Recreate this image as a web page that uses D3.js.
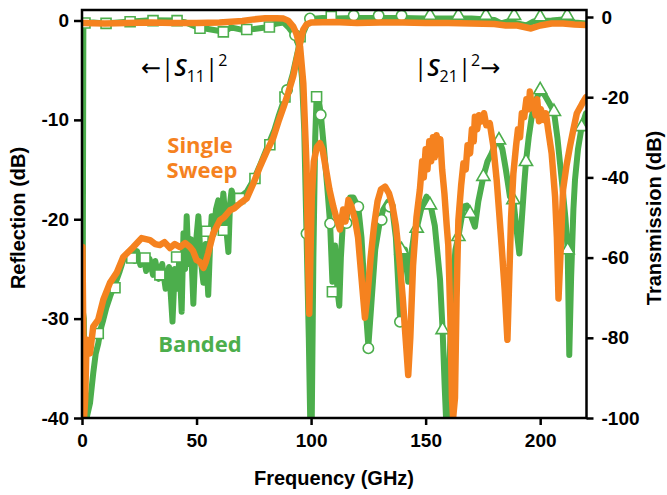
<!DOCTYPE html>
<html>
<head>
<meta charset="utf-8">
<script src="https://cdn.jsdelivr.net/npm/d3@7"></script>
<style>
  body { margin: 0; background: #fff; }
  svg text { font-family: "Liberation Sans", Arial, sans-serif; }
</style>
</head>
<body>
<svg id="chart" width="667" height="495"></svg>
<script>
const freqTicks = [0, 50, 100, 150, 200];
const reflTicks = [0, -10, -20, -30, -40];
const transTicks = [0, -20, -40, -60, -80, -100];

// |S11|^2 reflection (left axis), [GHz, dB]
const s11Banded = [
  [0.2, -29], [0.8, -30], [1.2, -40], [2, -40], [3.5, -38.5], [4.9, -35.5], [6, -33.5],
  [7.1, -32.5], [8.2, -31], [9.3, -30.1], [10.5, -29], [12.2, -27.8], [13.5, -27], [15.1, -26.1],
  [16.5, -25.2], [18, -24.1], [20, -23.6], [21.5, -23.2], [23, -24.2], [24, -23.2], [25.5, -24.6],
  [27, -23.8], [28, -25.2], [29.5, -24], [31, -25.6], [32, -24.2], [33.5, -26], [35, -24.5],
  [36.5, -27], [38, -24.8], [39.5, -30.3], [40.5, -25], [41.5, -27], [42.5, -24], [43.5, -29.3],
  [44.3, -21.4], [45, -25], [45.7, -19.7], [46.5, -24.5], [47.5, -22], [48.6, -28.5], [49.5, -23],
  [50.8, -19.7], [51.8, -24], [53, -26.4], [54, -22.5], [55.1, -27.6], [56, -22], [56.6, -19.7],
  [57.5, -21.5], [58.5, -19], [59.5, -18.1], [60.5, -21], [61.7, -17.4], [62.8, -20.5], [63.9, -23.3],
  [64.6, -18.5], [65.3, -17.1], [67, -18.5], [69, -17.8], [72, -17.2], [75, -16], [78, -14.4],
  [81, -12.7], [84, -11], [86, -9.5], [88.5, -7.8], [90, -7], [92, -5.4], [94, -3.3], [95.5, -1.9],
  [97, -1], [98.5, -0.2], [100, 0.15], [105, 0.25], [110, 0.2], [120, 0.25], [130, 0.25], [140, 0.25],
  [150, 0.2], [160, 0.2], [170, 0.2], [180, 0.05], [183, -0.3], [186, -0.1], [190, -0.3], [194, -0.5],
  [197, -0.1], [205, 0], [210, 0.1], [215, -0.2], [220, -0.3]
];
const s11Single = [
  [0.2, -22.8], [0.5, -30], [0.9, -40], [1.4, -38], [2, -32.1], [3.5, -33.5], [4.9, -30.8],
  [7.1, -30.1], [9.3, -28.1], [12.2, -26.4], [15.1, -25.4], [18, -23.8], [22.4, -22.8], [26, -21.9],
  [29.7, -22.1], [32, -22.5], [34, -22.6], [36, -22.3], [38.4, -22.9], [40.5, -22.5], [42.8, -22.8],
  [45, -22.4], [47.1, -22.8], [48.5, -23.2], [50, -24.1], [51.5, -24.3], [53, -24.9], [54, -24.3],
  [55.1, -23.4], [57.3, -21.4], [60.2, -20.1], [62, -19.8], [64.6, -19.1], [66.5, -18.9], [69, -18.4],
  [71.9, -17.9], [74.8, -16.4], [77.7, -14.7], [80.6, -13.2], [83.5, -11.8], [86, -10], [88, -8.7],
  [90, -7.3], [92.2, -5.6], [94, -3.6], [95.2, -2.3], [96.6, -0.9], [98, -0.4], [100, -0.2],
  [110, -0.15], [120, -0.25], [130, -0.2], [140, -0.2], [150, -0.25], [160, -0.25], [170, -0.3],
  [180, -0.35], [185, -0.5], [190, -0.5], [196, -0.8], [200, -0.5], [205, -0.3], [210, -0.3],
  [215, -0.4], [220, -0.45]
];

// |S21|^2 transmission (right axis), [GHz, dB]
const s21Banded = [
  [0.2, -100], [0.6, -1.5], [5, -1.4], [10, -1.6], [20, -1.2], [30, -0.8], [40, -0.9], [45, -1.3],
  [50, -2.5], [55, -3], [60, -3.5], [62, -3.7], [65, -2.6], [70, -3.2], [75, -3], [80, -2.6],
  [85, -1.6], [88, -1.4], [90, -2.5], [92, -4], [93, -4.8], [94.5, -7], [96, -15], [97, -28],
  [98, -54], [99, -80], [99.6, -100], [100.3, -100], [101, -60], [101.8, -30], [102.4, -20],
  [103, -19.5], [104.2, -24], [105.5, -32], [107, -42], [108.3, -51.5], [109.3, -66], [110.5, -57],
  [111.5, -68], [112.3, -72], [113, -60], [114, -50], [115.5, -50], [117, -45], [118.5, -45],
  [120.6, -47.5], [122, -55], [123.5, -70], [125, -82], [126.5, -70], [128, -58], [130, -51],
  [131.5, -48], [133.7, -46], [135.5, -48], [137, -55], [138.8, -75], [139.5, -60], [141, -58],
  [142.4, -66], [143.5, -60], [145, -54], [146.1, -52.7], [148, -48], [150.4, -44.8], [152, -46.5],
  [154, -52], [156.3, -65.6], [157.4, -78], [158.3, -92], [158.9, -100], [159.8, -100], [160.5, -85],
  [161.5, -70], [163, -58], [164.3, -54.8], [166.5, -47.3], [168, -47], [169.4, -49], [171.5, -52.3],
  [173, -46], [175.2, -39.8], [177, -36], [178.8, -34], [180.5, -31.5], [182, -30.7], [183.5, -33],
  [185, -38], [186.8, -44.8], [188.3, -45.6], [189.5, -52], [190.9, -59], [191.8, -52], [193, -42],
  [193.8, -36.1], [195, -30], [196.3, -24.9], [198, -21], [200, -18.2], [202, -19.5], [204, -21.5],
  [206, -23.6], [207.5, -30], [209.4, -40.6], [211, -50], [212, -58.1], [212.7, -84.3], [213.5, -65],
  [214.5, -48], [215.2, -40.6], [216.5, -33], [218.1, -27.4], [220, -24]
];
const s21Single = [
  [0, -1.5], [10, -1.6], [20, -1.5], [30, -1.4], [40, -1.5], [50, -1.5], [60, -1.4], [70, -1],
  [75, -0.6], [80, -0.3], [85, -0.3], [88, -0.4], [90, -0.9], [92.2, -2.4], [93.5, -4], [95.2, -7.4],
  [96.6, -16.5], [98, -37], [98.7, -60], [99.2, -74], [99.7, -60], [100.3, -45], [101.2, -36],
  [102.5, -32.5], [103.9, -31.5], [105, -33], [106.5, -38], [108, -43], [109.7, -47.3], [111, -50],
  [112.6, -53], [114, -48], [115, -51], [116.3, -45.6], [117.5, -47], [119.2, -50.6], [120.5, -55],
  [122, -65], [123.5, -75], [124.5, -70], [126, -60], [127.5, -52], [129, -46], [130.5, -43],
  [132.3, -42.3], [134, -44], [135.5, -47], [137, -52], [138.5, -60], [140, -70], [141.5, -82],
  [142.4, -89.3], [143.3, -80], [144.5, -62], [146, -50], [147.5, -43], [148.5, -36], [149.2, -40],
  [150, -33], [150.8, -38], [151.6, -31], [152.4, -36], [153.2, -30], [154, -35], [154.8, -29.5],
  [155.6, -34], [156.4, -30.5], [157.2, -38], [158.2, -44], [159.2, -52], [159.9, -57], [160.8, -75],
  [161.5, -95], [162, -100], [162.8, -95], [163.5, -70], [164.3, -50.6], [165.5, -42], [166.5, -36.5],
  [167.5, -38], [168.3, -32], [169.4, -34], [170.2, -28], [171, -31], [171.5, -24.9], [172.5, -28],
  [173.3, -24.5], [174.5, -26], [175.5, -24], [176.5, -27], [178, -26.5], [179.5, -32], [181, -40.6],
  [182, -48], [183.2, -57.3], [184.5, -68], [185.7, -80.5], [186.5, -65], [187.3, -50], [188.3, -39],
  [189.5, -32], [190.3, -28], [191.2, -30], [192, -24], [193, -25], [194, -20.5], [195, -23],
  [195.5, -18.6], [196.3, -22], [197, -21], [198, -24.5], [198.7, -20.5], [199.5, -26], [200.3, -23],
  [201.5, -25.7], [202.5, -24], [203.5, -28.2], [205, -34], [206.5, -44.8], [207.3, -55], [208, -70.2],
  [208.8, -60], [210, -43], [211.5, -37], [213, -32.3], [214.5, -28], [216, -24], [217.5, -22.5],
  [218.8, -21.1], [220, -20]
];

// banded measurement markers: band 1 squares, band 2 circles, band 3 triangles
const s11Squares = [
  [7.1, -31.5], [14.4, -26.9], [21.7, -23.9], [27.5, -23.9], [34, -25.6], [41.3, -23.8],
  [54.4, -21.2], [61.7, -21.1], [68.8, -17.9], [75.5, -15.9], [82, -12.5], [88.6, -7.7], [108.8, 0.4]
];
const s11Circles = [[89.5, -7], [99.5, 0.2], [118.6, 0.5], [129.5, 0.5], [139.5, 0.5]];
const s11Triangles = [[151.9, 0.5], [164.3, 0.5], [176.3, 0.5], [188.6, 0.5], [200, 0.35], [211.8, 0.5]];
const s21Squares = [
  [1.3, -1.5], [10.5, -1.6], [21, -1.2], [31, -0.9], [41.5, -0.9], [51.5, -2.8], [61.7, -3.7],
  [71.9, -3.1], [81.8, -2.5], [95.2, -4.9], [102.4, -19.9], [109.3, -68.5]
];
const s21Circles = [
  [93, -4.5], [98, -54], [104.2, -24.4], [108.3, -51.5], [115.5, -51.4], [120.6, -47.3],
  [125, -82.6], [130.8, -50.6], [134.4, -47.3], [138.8, -76]
];
const s21Triangles = [
  [139.5, -58.1], [146.1, -52.7], [151.9, -46.9], [157.4, -78], [164.3, -54.8], [169.4, -49],
  [175.2, -39.8], [182, -30.7], [188.3, -45.6], [193.8, -36.1], [200, -18.2], [206, -23.6],
  [212, -58.1], [218.1, -27.4]
];

const green = '#4cae4c';
const orange = '#f5821f';

const plotLeft = 82, plotRight = 586.5, plotTop = 10, plotBottom = 418;

const xScale = d3.scaleLinear().domain([0, 220]).range([82, 586]);
const yLeft = d3.scaleLinear().domain([-40, 0]).range([418, 20.5]);
const yRight = d3.scaleLinear().domain([-100, 0]).range([418, 17]);

const svg = d3.select('#chart');

svg.append('defs').append('clipPath')
  .attr('id', 'plot-clip')
  .append('rect')
  .attr('x', plotLeft).attr('y', plotTop)
  .attr('width', plotRight - plotLeft).attr('height', plotBottom - plotTop);

const plot = svg.append('g').attr('clip-path', 'url(#plot-clip)');

const lineLeft = d3.line().x(d => xScale(d[0])).y(d => yLeft(d[1]));
const lineRight = d3.line().x(d => xScale(d[0])).y(d => yRight(d[1]));

function drawLine(data, line, color, width) {
  plot.append('path')
    .datum(data)
    .attr('fill', 'none')
    .attr('stroke', color)
    .attr('stroke-width', width)
    .attr('stroke-linejoin', 'round')
    .attr('stroke-linecap', 'round')
    .attr('d', line);
}

function drawMarkers(data, y, type, size) {
  plot.append('g').selectAll('path')
    .data(data)
    .join('path')
    .attr('transform', d => `translate(${xScale(d[0])},${y(d[1])})`)
    .attr('d', d3.symbol().type(type).size(size))
    .attr('fill', '#fff')
    .attr('stroke', green)
    .attr('stroke-width', 1.6);
}

// banded (green) first, then single sweep (orange) on top
drawLine(s11Banded, lineLeft, green, 6);
drawLine(s21Banded, lineRight, green, 6);

drawMarkers(s11Squares, yLeft, d3.symbolSquare, 100);
drawMarkers(s21Squares, yRight, d3.symbolSquare, 100);
drawMarkers(s11Circles, yLeft, d3.symbolCircle, 85);
drawMarkers(s21Circles, yRight, d3.symbolCircle, 85);
drawMarkers(s11Triangles, yLeft, d3.symbolTriangle, 75);
drawMarkers(s21Triangles, yRight, d3.symbolTriangle, 75);

drawLine(s11Single, lineLeft, orange, 6.5);
drawLine(s21Single, lineRight, orange, 6.5);

// axes
const fmt = d => String(d);

const xAxisG = svg.append('g')
  .attr('transform', `translate(0,${plotBottom})`)
  .call(d3.axisBottom(xScale).tickValues(freqTicks).tickFormat(fmt).tickSize(7).tickPadding(9));

const yLeftG = svg.append('g')
  .attr('transform', `translate(${plotLeft},0)`)
  .call(d3.axisLeft(yLeft).tickValues(reflTicks).tickFormat(fmt).tickSize(8).tickPadding(5));

const yRightG = svg.append('g')
  .attr('transform', `translate(${plotRight},0)`)
  .call(d3.axisRight(yRight).tickValues(transTicks).tickFormat(fmt).tickSize(7).tickPadding(8));

[xAxisG, yLeftG, yRightG].forEach(g => {
  g.select('.domain').remove();
  g.selectAll('.tick line').attr('stroke', '#000').attr('stroke-width', 2.5);
  g.selectAll('.tick text')
    .attr('fill', '#000')
    .style('font-size', '19px')
    .style('font-weight', 'bold');
});

// frame
svg.append('path')
  .attr('d', `M${plotLeft},${plotTop}H${plotRight}V${plotBottom}H${plotLeft}Z`)
  .attr('fill', 'none')
  .attr('stroke', '#000')
  .attr('stroke-width', 2.5);

// axis titles
svg.append('text')
  .attr('transform', 'translate(334,485)')
  .attr('text-anchor', 'middle')
  .style('font-size', '20px').style('font-weight', 'bold')
  .text('Frequency (GHz)');

svg.append('text')
  .attr('transform', 'translate(25,218) rotate(-90)')
  .attr('text-anchor', 'middle')
  .style('font-size', '20px').style('font-weight', 'bold')
  .text('Reflection (dB)');

svg.append('text')
  .attr('transform', 'translate(661,218) rotate(-90)')
  .attr('text-anchor', 'middle')
  .style('font-size', '20px').style('font-weight', 'bold')
  .text('Transmission (dB)');

// series labels
const single = svg.append('text')
  .attr('fill', orange)
  .attr('text-anchor', 'middle')
  .style('font-family', '"Open Sans", sans-serif')
  .style('font-weight', 'bold')
  .style('font-size', '22px');
single.append('tspan').attr('x', 200).attr('y', 153).text('Single');
single.append('tspan').attr('x', 202).attr('y', 178).text('Sweep');

svg.append('text')
  .attr('x', 200).attr('y', 352)
  .attr('fill', green)
  .attr('text-anchor', 'middle')
  .style('font-family', '"Open Sans", sans-serif')
  .style('font-weight', 'bold')
  .style('font-size', '22px')
  .text('Banded');

// |S11|^2 and |S21|^2 labels
function sParam(x, sub, arrowLeft) {
  const t = svg.append('text')
    .attr('x', x).attr('y', 76)
    .attr('fill', '#000')
    .style('font-family', '"Open Sans", "DejaVu Sans", sans-serif')
    .style('font-size', '24px');
  t.append('tspan').text(arrowLeft ? '\u2190|' : '|');
  t.append('tspan').style('font-style', 'italic').style('font-weight', '600').text('S');
  t.append('tspan').attr('dy', 6).style('font-size', '16px').text(sub);
  t.append('tspan').attr('dy', -6).text('|');
  t.append('tspan').attr('dy', -10).style('font-size', '16px').text('2');
  if (!arrowLeft) t.append('tspan').attr('dy', 10).text('\u2192');
}
sParam(141, '11', true);
sParam(414, '21', false);
</script>
</body>
</html>
